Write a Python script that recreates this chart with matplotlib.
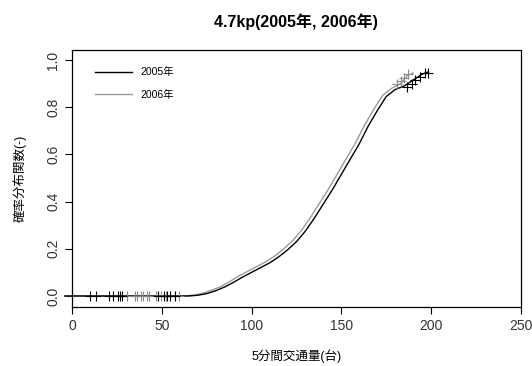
import numpy as np
import matplotlib.pyplot as plt

plt.rcParams['font.family'] = ['Liberation Sans', 'Noto Sans CJK JP']

## Valeurs

# 2005 (noir)
x05 = [-4, 65, 70, 75, 80, 85, 90, 95, 100, 105, 110, 115, 120, 125, 130, 135,
       140, 145, 150, 155, 160, 165, 170, 175, 180, 185, 190, 195, 198.5]
p05 = [0, 0, 0.003, 0.01, 0.022, 0.038, 0.058, 0.08, 0.1, 0.12, 0.14, 0.165,
       0.195, 0.23, 0.275, 0.33, 0.39, 0.45, 0.515, 0.58, 0.645, 0.72, 0.785,
       0.845, 0.875, 0.89, 0.915, 0.94, 0.95]

# 2006 (gris)
x06 = [-4, 62, 68, 73, 78, 83, 88, 93, 98, 103, 108, 113, 118, 123, 128, 133,
       138, 143, 148, 153, 158, 163, 168, 173, 178, 183, 187, 190]
p06 = [0, 0, 0.004, 0.012, 0.025, 0.04, 0.062, 0.085, 0.105, 0.125, 0.145,
       0.17, 0.2, 0.235, 0.28, 0.335, 0.395, 0.455, 0.52, 0.585, 0.65, 0.725,
       0.79, 0.85, 0.88, 0.9, 0.935, 0.945]

# marques de censure
c05_x = [10.2, 13.3, 20.4, 22.6, 25.4, 26.9, 27.6, 48, 51.3, 53.1, 54.6, 57.4,
         186.5, 189.3, 191.1, 193.9, 196.7, 198.5]
c05_y = [0]*12 + [0.887, 0.9, 0.915, 0.93, 0.944, 0.947]
c06_x = [30.4, 35, 36.1, 38.3, 39.4, 41.7, 43.1, 46.7, 49.4, 52.2, 59.6,
         181, 183, 185, 187]
c06_y = [0]*11 + [0.9, 0.91, 0.925, 0.94]

xticks = [0, 50, 100, 150, 200, 250]
yticks = [0.0, 0.2, 0.4, 0.6, 0.8, 1.0]

## Figure

fig = plt.figure(figsize=(5.32, 3.66), dpi=100)
ax = fig.add_axes([0.1353, 0.161, 0.8437, 0.702])

ax.plot(x06, p06, color='#9a9a9a', lw=1.0, label='2006年', clip_on=False)
ax.plot(x05, p05, color='black', lw=1.0, label='2005年', clip_on=False)
ax.plot(c06_x, c06_y, '+', color='#8a8a8a', ms=7.5, mew=0.8, clip_on=False)
ax.plot(c05_x, c05_y, '+', color='black', ms=7.5, mew=0.8, clip_on=False)

ax.set_xlim(0, 250)
ax.set_ylim(-0.047, 1.042)
ax.set_xticks(xticks)
ax.set_xticklabels([str(v) for v in xticks], fontsize=10, color='#333333')
ax.set_yticks(yticks)
ax.set_yticklabels(['%.1f' % v for v in yticks], fontsize=10, rotation=90,
                   va='center', color='#333333')
ax.tick_params(direction='out', length=5, width=0.8)
for s in ax.spines.values():
    s.set_linewidth(0.9)

ax.set_xlabel('5分間交通量(台)', fontsize=9, labelpad=12)
ax.set_ylabel('確率分布関数(-)', fontsize=9, labelpad=14)
ax.set_title('4.7kp(2005年, 2006年)', fontsize=11.5, fontweight='bold', pad=17)

h, l = ax.get_legend_handles_labels()
ax.legend(h[::-1], l[::-1], loc='upper left', frameon=False, fontsize=7.5,
          handlelength=3.6, bbox_to_anchor=(0.03, 0.97), labelspacing=1.2)

fig.savefig('out.png', dpi=100)
